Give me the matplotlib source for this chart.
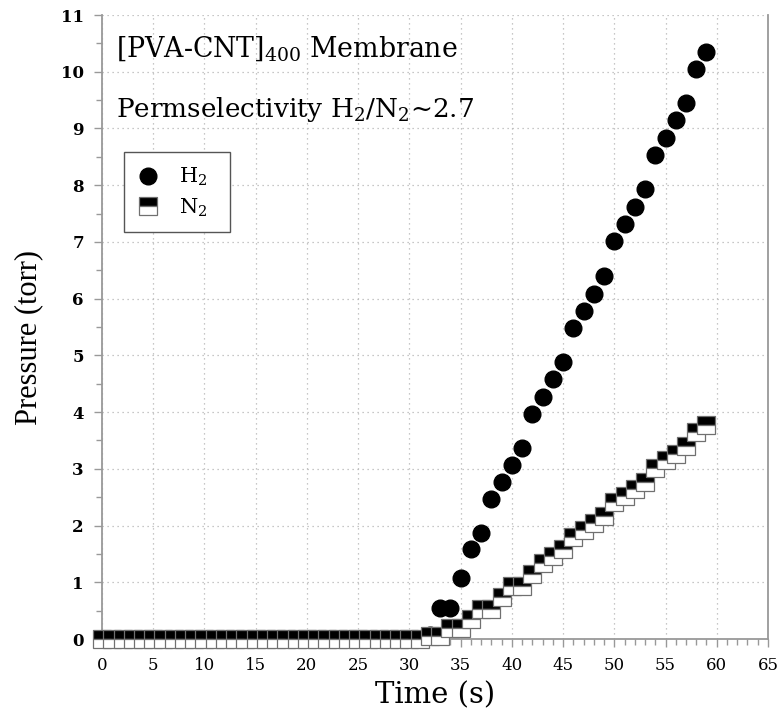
import numpy as np
import matplotlib
matplotlib.use("Agg")
import matplotlib.pyplot as plt
from matplotlib.ticker import MultipleLocator

plt.rcParams["font.family"] = ["DejaVu Serif"]
plt.rcParams["mathtext.fontset"] = "dejavuserif"

# time in seconds, one reading per second
TIME_S = [
    0, 1, 2, 3, 4, 5, 6, 7, 8, 9,
    10, 11, 12, 13, 14, 15, 16, 17, 18, 19,
    20, 21, 22, 23, 24, 25, 26, 27, 28, 29,
    30, 31, 32, 33, 34, 35, 36, 37, 38, 39,
    40, 41, 42, 43, 44, 45, 46, 47, 48, 49,
    50, 51, 52, 53, 54, 55, 56, 57, 58, 59,
]

H2_TORR = [
    0.0, 0.0, 0.0, 0.0, 0.0, 0.0, 0.0, 0.0, 0.0, 0.0,
    0.0, 0.0, 0.0, 0.0, 0.0, 0.0, 0.0, 0.0, 0.0, 0.0,
    0.0, 0.0, 0.0, 0.0, 0.0, 0.0, 0.0, 0.0, 0.0, 0.0,
    0.0, 0.0, 0.07, 0.54, 0.54, 1.08, 1.58, 1.87, 2.46, 2.77,
    3.07, 3.37, 3.97, 4.27, 4.58, 4.89, 5.49, 5.78, 6.09, 6.40,
    7.01, 7.32, 7.62, 7.93, 8.53, 8.84, 9.15, 9.45, 10.04, 10.35,
]

N2_TORR = [
    0.0, 0.0, 0.0, 0.0, 0.0, 0.0, 0.0, 0.0, 0.0, 0.0,
    0.0, 0.0, 0.0, 0.0, 0.0, 0.0, 0.0, 0.0, 0.0, 0.0,
    0.0, 0.0, 0.0, 0.0, 0.0, 0.0, 0.0, 0.0, 0.0, 0.0,
    0.0, 0.0, 0.05, 0.05, 0.19, 0.19, 0.35, 0.53, 0.53, 0.74,
    0.94, 0.94, 1.15, 1.34, 1.46, 1.58, 1.80, 1.92, 2.04, 2.17,
    2.41, 2.52, 2.65, 2.77, 3.02, 3.15, 3.27, 3.41, 3.65, 3.77,
]

GRAY = "#999999"

fig = plt.figure(figsize=(7.83, 7.12), dpi=100)
ax = fig.add_axes([0.1303, 0.1025, 0.8505, 0.8764])

ax.plot(
    TIME_S, H2_TORR,
    linestyle="none",
    marker="o",
    markersize=12,
    color="black",
    label="H$_2$  ",
    clip_on=False,
    zorder=3,
)

ax.plot(
    TIME_S, N2_TORR,
    linestyle="none",
    marker="s",
    markersize=12.5,
    fillstyle="top",
    markerfacecolor="black",
    markerfacecoloralt="white",
    markeredgecolor="#707070",
    markeredgewidth=0.9,
    label="N$_2$  ",
    clip_on=False,
    zorder=4,
)

ax.set_xlim(0, 65)
ax.set_ylim(0, 11)

ax.xaxis.set_major_locator(MultipleLocator(5))
ax.xaxis.set_minor_locator(MultipleLocator(1))
ax.yaxis.set_major_locator(MultipleLocator(1))
ax.yaxis.set_minor_locator(MultipleLocator(0.5))

ax.grid(True, which="major", linestyle=(0, (1, 3)), color="#b5b5b5",
        linewidth=0.9)
ax.set_axisbelow(True)

for side in ["left", "right", "bottom"]:
    ax.spines[side].set_color(GRAY)
    ax.spines[side].set_linewidth(1.3)
ax.spines["top"].set_visible(False)

ax.tick_params(axis="both", which="major", length=6, width=1, color=GRAY,
               labelsize=12, pad=7)
ax.tick_params(axis="both", which="minor", length=4, width=1, color=GRAY)

for lbl in ax.get_yticklabels():
    lbl.set_fontweight("bold")

ax.set_xlabel("Time (s)", fontsize=21, labelpad=5)
ax.set_ylabel("Pressure (torr)", fontsize=22, family="Liberation Serif")
ax.yaxis.set_label_coords(-0.089, 0.484)

ax.text(0.021, 0.933, "[PVA-CNT]$_{400}$ Membrane",
        transform=ax.transAxes, fontsize=19.3, va="baseline")
ax.text(0.021, 0.837, "Permselectivity H$_2$/N$_2$~2.7",
        transform=ax.transAxes, fontsize=18.9, va="baseline")

leg = ax.legend(
    loc="upper left",
    bbox_to_anchor=(0.033, 0.780),
    borderaxespad=0,
    fontsize=15,
    fancybox=False,
    framealpha=1,
    edgecolor="#555555",
    handlelength=1.0,
    handletextpad=1.0,
    borderpad=0.65,
    labelspacing=0.4,
)
leg.get_frame().set_linewidth(1)

plt.savefig("out.png", dpi=100)
plt.close()
